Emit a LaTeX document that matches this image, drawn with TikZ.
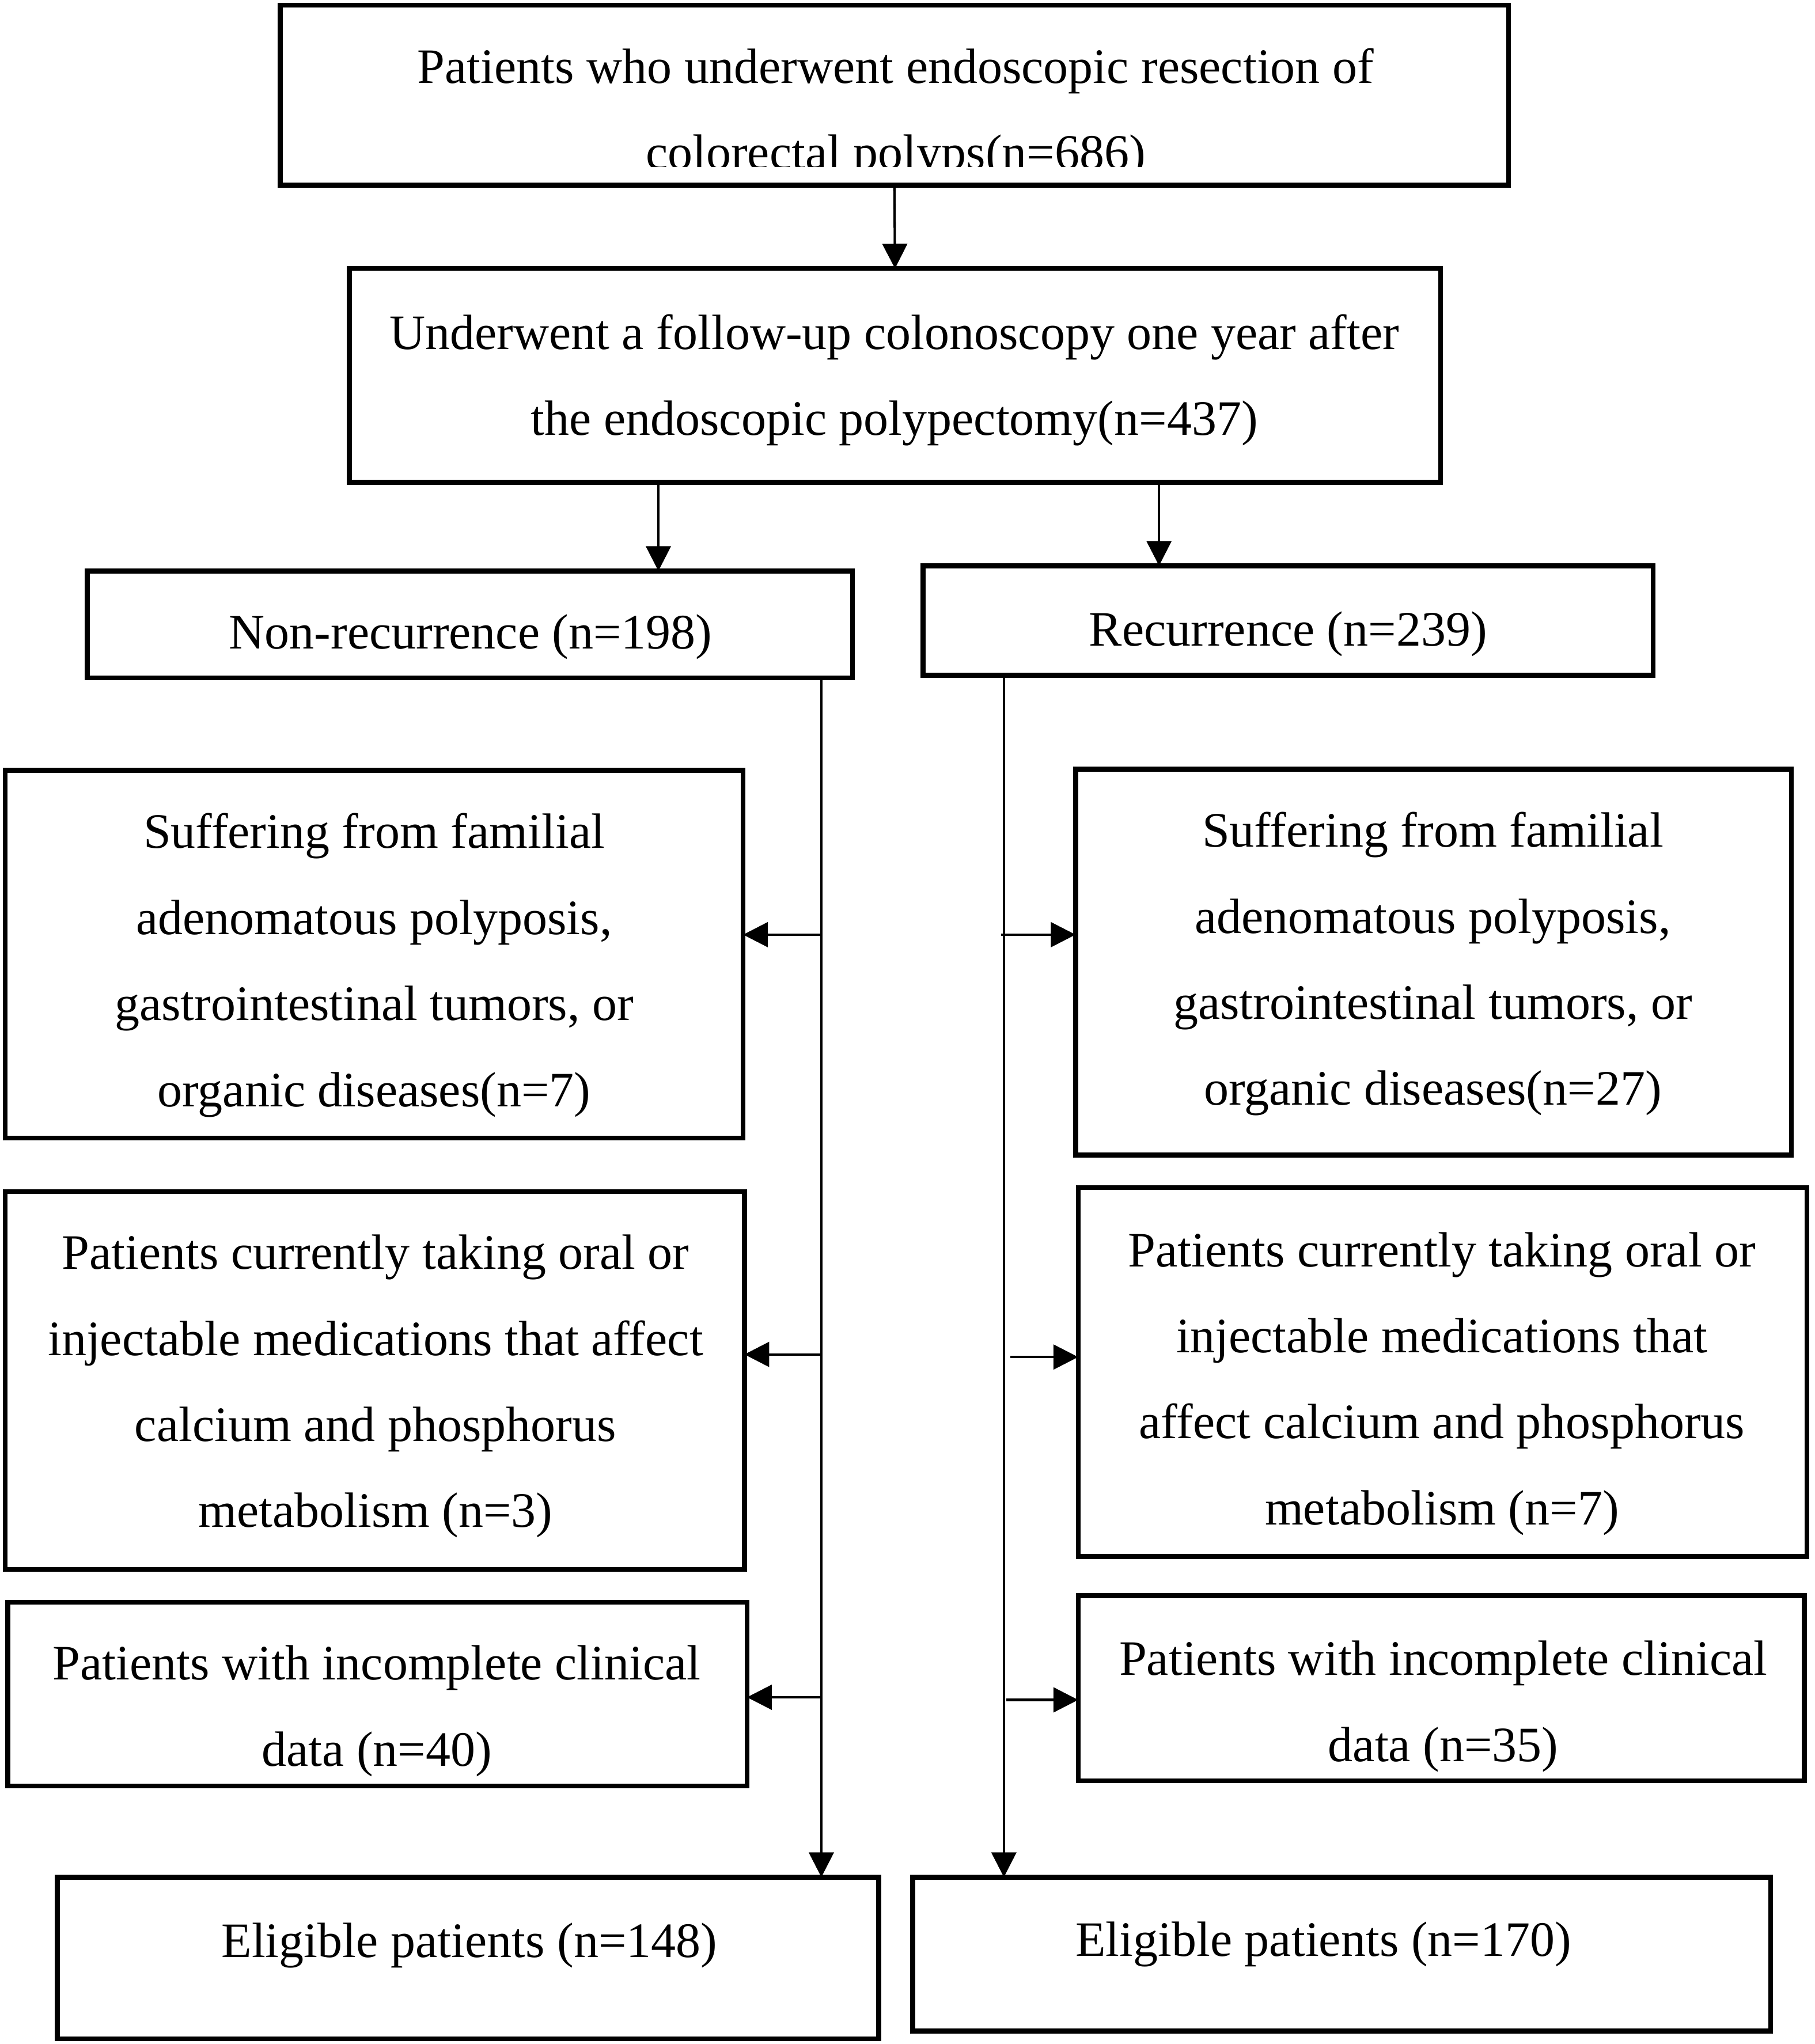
\documentclass[tikz,border=0pt]{standalone}
\usepackage{fontspec}
\setmainfont{Liberation Serif}
\usetikzlibrary{arrows.meta}
\begin{document}
\begin{tikzpicture}[x=1pt,y=-1pt,
  box/.style={draw=black, line width=3.7pt, rectangle, inner sep=0pt, outer sep=0pt},
  txt/.style={align=center, inner sep=0pt, font=\fontsize{38}{66}\selectfont},
  arr/.style={line width=1.8pt, -{Triangle[length=19pt,width=19pt]}}]
\useasboundingbox (0,0) rectangle (1392,1568);
% boxes
\node[box, minimum width=942pt, minimum height=138pt] (B1) at (686,73) {};
\node[box, minimum width=837pt, minimum height=164pt] (B2) at (686.5,288) {};
\node[box, minimum width=587pt, minimum height=82pt] (B3) at (360.5,479) {};
\node[box, minimum width=560pt, minimum height=84pt] (B4) at (988,476) {};
\node[box, minimum width=566pt, minimum height=282pt] (L1) at (287,732) {};
\node[box, minimum width=567pt, minimum height=290pt] (L2) at (287.5,1059) {};
\node[box, minimum width=567pt, minimum height=141pt] (L3) at (289.5,1299.5) {};
\node[box, minimum width=549pt, minimum height=296pt] (R1) at (1099.5,738) {};
\node[box, minimum width=559pt, minimum height=283pt] (R2) at (1106.5,1052.5) {};
\node[box, minimum width=557pt, minimum height=142pt] (R3) at (1105.5,1295) {};
\node[box, minimum width=630pt, minimum height=124pt] (LE) at (359,1502) {};
\node[box, minimum width=658pt, minimum height=118pt] (RE) at (1029,1499) {};
% texts
\begin{scope}
\clip (215,4) rectangle (1157,128);
\node[txt] (T1) at (687,87.5) {Patients who underwent endoscopic resection of\\colorectal polyps(n=686)};
\end{scope}
\node[txt] (T2) at (686,291.5) {Underwent a follow-up colonoscopy one year after\\the endoscopic polypectomy(n=437)};
\node[txt] (T3) at (361,488.5) {Non-recurrence (n=198)};
\node[txt] (T4) at (988,486.5) {Recurrence (n=239)};
\node[txt] (TL1) at (287,740.5) {Suffering from familial\\adenomatous polyposis,\\gastrointestinal tumors, or\\organic diseases(n=7)};
\node[txt] (TL2) at (288,1063.5) {Patients currently taking oral or\\injectable medications that affect\\calcium and phosphorus\\metabolism (n=3)};
\node[txt] (TL3) at (289,1312.5) {Patients with incomplete clinical\\data (n=40)};
\node[txt] (TR1) at (1099,739.5) {Suffering from familial\\adenomatous polyposis,\\gastrointestinal tumors, or\\organic diseases(n=27)};
\node[txt] (TR2) at (1106,1061.5) {Patients currently taking oral or\\injectable medications that\\affect calcium and phosphorus\\metabolism (n=7)};
\node[txt] (TR3) at (1107,1309) {Patients with incomplete clinical\\data (n=35)};
\node[txt] (TLE) at (360,1492.5) {Eligible patients (n=148)};
\node[txt] (TRE) at (1015,1491.5) {Eligible patients (n=170)};
% helper coordinates
\coordinate (xa) at (505,0);
\coordinate (xb) at (889,0);
\coordinate (xl) at (630,0);
\coordinate (xr) at (770,0);
\coordinate (la) at (630,717);
\coordinate (lb) at (630,1039);
\coordinate (lc) at (630,1302);
\coordinate (ra) at (768,717);
\coordinate (rb) at (775,1041);
\coordinate (rc) at (772,1304);
% connectors
\draw[arr] (B1.south) -- (B2.north);
\draw[arr] (B2.south -| xa) -- (B3.north -| xa);
\draw[arr] (B2.south -| xb) -- (B4.north -| xb);
\draw[arr] (B3.south -| xl) -- (LE.north -| xl);
\draw[arr] (B4.south -| xr) -- (RE.north -| xr);
\draw[arr] (la) -- (la -| L1.east);
\draw[arr] (lb) -- (lb -| L2.east);
\draw[arr] (lc) -- (lc -| L3.east);
\draw[arr] (ra) -- (ra -| R1.west);
\draw[arr] (rb) -- (rb -| R2.west);
\draw[arr] (rc) -- (rc -| R3.west);
\end{tikzpicture}
\end{document}
